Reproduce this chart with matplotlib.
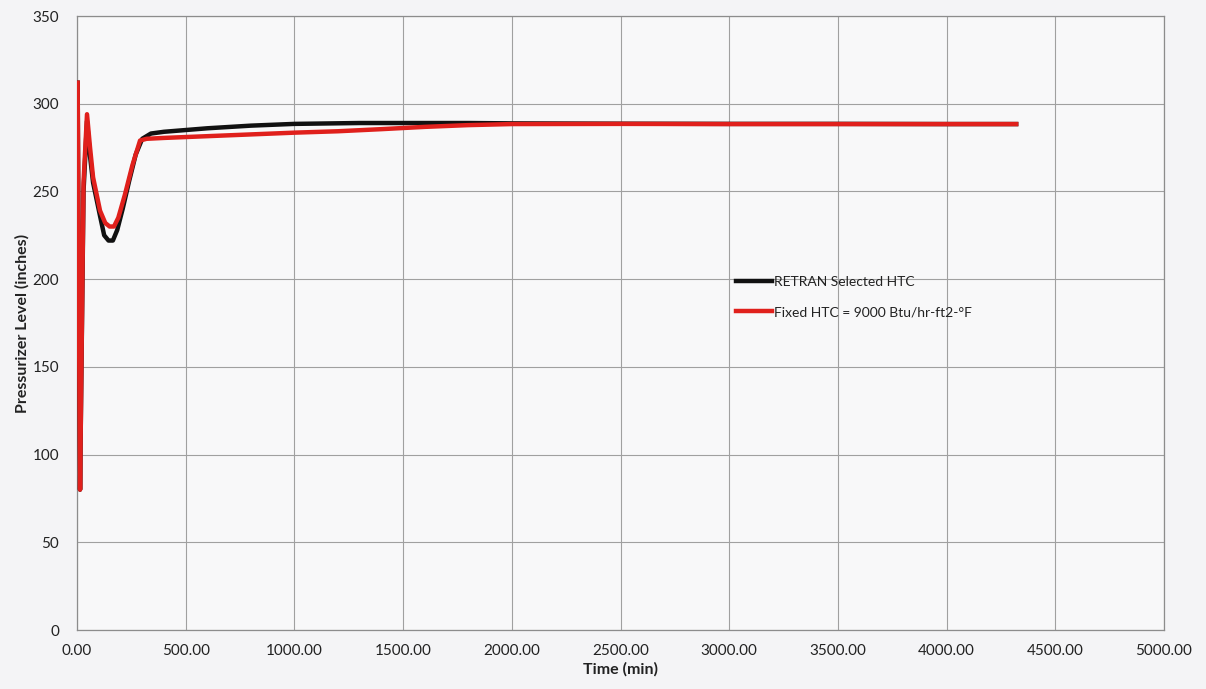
import numpy as np
import matplotlib.pyplot as plt

plt.rcParams['font.family'] = ['Lato', 'DejaVu Sans']

# RETRAN selected HTC (black)
t_black = [3, 8, 14, 30, 46, 60, 74, 106, 125, 145, 165, 185, 210, 240, 270, 300, 340,
           400, 600, 800, 1000, 1300, 1800, 2000, 2500, 3000, 3500, 4000, 4320]
lvl_black = [312, 200, 80, 250, 290, 270, 255, 236, 225, 222, 222, 228, 240, 256, 271, 280, 283,
             284, 286, 287.5, 288.5, 289, 289, 288.8, 288.6, 288.5, 288.5, 288.4, 288.4]

# Fixed HTC = 9000 (red)
t_red = [3, 8, 14, 30, 46, 60, 74, 106, 130, 150, 170, 190, 220, 255, 290, 320,
         400, 600, 800, 1000, 1200, 1400, 1600, 1800, 2000, 2500, 3000, 3500, 4000, 4320]
lvl_red = [312, 200, 80, 255, 294, 275, 258, 239, 232, 230, 230, 235, 248, 265, 279, 280,
           280.5, 281.5, 282.5, 283.5, 284.3, 285.5, 286.8, 287.8, 288.4, 288.5, 288.4, 288.4, 288.4, 288.4]

x_ticks = np.arange(0, 5001, 500)
y_ticks = np.arange(0, 351, 50)

bg = '#f4f4f6'
fig = plt.figure(figsize=(12.06, 6.89), dpi=100, facecolor=bg)
ax = fig.add_axes([77/1206, 1 - 630/689, (1164-77)/1206, (630-16)/689])
ax.set_facecolor('#f8f8f9')

ax.plot(t_black, lvl_black, color='#111111', lw=3.2, label='RETRAN Selected HTC', zorder=3)
ax.plot(t_red, lvl_red, color='#e0201c', lw=3.2, label='Fixed HTC = 9000 Btu/hr-ft2-°F', zorder=4)

ax.set_xlim(0, 5000)
ax.set_ylim(0, 350)
ax.set_xticks(x_ticks)
ax.set_xticklabels([f'{v:.2f}' for v in x_ticks])
ax.set_yticks(y_ticks)
ax.tick_params(axis='both', length=0, labelsize=11, colors='#222222')
ax.tick_params(axis='y', pad=13)
ax.tick_params(axis='x', pad=10)
ax.grid(True, color='#a0a0a0', lw=0.8)
ax.set_axisbelow(True)
for s in ax.spines.values():
    s.set_color('#8c8c8c')
    s.set_linewidth(0.9)

ax.set_xlabel('Time (min)', fontsize=11.5, fontweight='bold', color='#222222', labelpad=3)
ax.set_ylabel('Pressurizer Level (inches)', fontsize=11.5, fontweight='bold', color='#222222', labelpad=2)

leg = ax.legend(loc='center left', bbox_to_anchor=((730-77)/1087, (630-297)/614), frameon=False,
                fontsize=10, handlelength=2.6, handletextpad=0.2, labelspacing=1.3,
                borderaxespad=0)
for t in leg.get_texts():
    t.set_color('#222222')

fig.savefig('out.png', dpi=100, facecolor=bg)
